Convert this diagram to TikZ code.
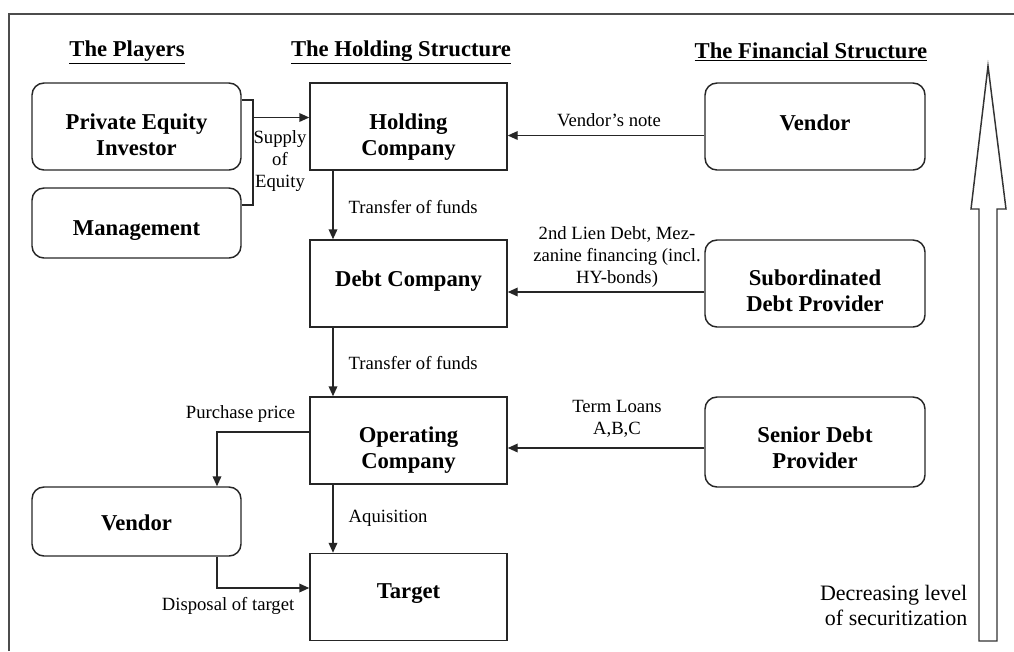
\documentclass[tikz,border=0pt]{standalone}
\usepackage{fontspec}
\setmainfont{Liberation Serif}
\usetikzlibrary{arrows.meta,calc}

\begin{document}
\begin{tikzpicture}[x=0.75pt,y=-0.75pt,
  line width=1.1pt,
  every node/.style={inner sep=0pt, text=black},
  entity/.style={draw=black!85, line width=1.1pt},
  squarebox/.style={entity, minimum width=147.75pt, minimum height=65.25pt},
  playerbox/.style={entity, rounded corners=9pt, minimum width=156.75pt},
  financebox/.style={entity, rounded corners=9pt, minimum width=165pt},
  boxtext/.style={align=center, font=\fontsize{17}{19.5}\selectfont\bfseries},
  heading/.style={font=\fontsize{17}{19.5}\selectfont\bfseries},
  flowlabel/.style={font=\fontsize{14}{16.2}\selectfont, align=center},
  arr/.style={draw=black!85, -{Triangle[length=7.5pt,width=6.5pt]}},
  wire/.style={draw=black!85}
]
\useasboundingbox (0,0) rectangle (1014,651);

% outer frame (top and left edges)
\draw[line width=1.5pt, black!70] (9,651) -- (9,14) -- (1014,14);

% column headings
\node[heading] (h1) at (127,52) {\underline{The Players}};
\node[heading] (h2) at (401,52) {\underline{The Holding Structure}};
\node[heading] (h3) at (811,52) {\underline{The Financial Structure}};

% holding structure
\node[squarebox] (hold) at (408.5,126.5) {};
\node[squarebox] (debt) at (408.5,283.5) {};
\node[squarebox] (oper) at (408.5,440.5) {};
\node[squarebox] (targ) at (408.5,597) {};
\node[boxtext] (holdt) at (408.5,137.5) {Holding\\Company};
\node[boxtext] (debtt) at (408.5,281.5) {Debt Company};
\node[boxtext] (opert) at (408.5,450.5) {Operating\\Company};
\node[boxtext] (targt) at (408.5,594) {Target};

% players
\node[playerbox, minimum height=65.25pt] (pe) at (136.5,126.5) {};
\node[playerbox, minimum height=52.5pt] (mgmt) at (136.5,223) {};
\node[playerbox, minimum height=51.75pt] (vleft) at (136.5,521.5) {};
\node[boxtext] (pet) at (136.5,135) {Private Equity\\Investor};
\node[boxtext] (mgmtt) at (136.5,231) {Management};
\node[boxtext] (vleftt) at (136.5,522.5) {Vendor};

% financial structure
\node[financebox, minimum height=65.25pt] (vright) at (815,126.5) {};
\node[financebox, minimum height=65.25pt] (sub) at (815,283.5) {};
\node[financebox, minimum height=67.5pt] (sen) at (815,442) {};
\node[boxtext] (vrightt) at (815,122.5) {Vendor};
\node[boxtext] (subt) at (815,290.5) {Subordinated\\Debt Provider};
\node[boxtext] (sent) at (815,448) {Senior Debt\\Provider};

% supply of equity bracket
\coordinate (bt) at (253,100);
\coordinate (bb) at (253,205);
\coordinate (eq) at (253,117.5);
\draw[wire] (pe.east |- bt) -- (bt) -- (bb) -- (mgmt.east |- bb);
\draw[arr] (eq) -- (eq -| hold.west);
\node[flowlabel] (leq) at (280,161) {Supply\\of\\Equity};

% funds flowing down the holding chain
\coordinate (spine) at (333,0);
\draw[arr] (hold.south -| spine) -- (debt.north -| spine);
\draw[arr] (debt.south -| spine) -- (oper.north -| spine);
\draw[arr] (oper.south -| spine) -- (targ.north -| spine);
\node[flowlabel, anchor=west] (lt1) at (348,207) {Transfer of funds};
\node[flowlabel, anchor=west] (lt2) at (348,363) {Transfer of funds};
\node[flowlabel, anchor=west] (lacq) at (348,518) {Aquisition};

% financing arrows
\coordinate (vn) at ($(vright.west)+(0,9)$);
\draw[arr] (vn) -- (vn -| hold.east);
\node[flowlabel] (lvn) at (609,120) {Vendor’s note};
\coordinate (sd) at ($(sub.west)+(0,8.5)$);
\draw[arr] (sd) -- (sd -| debt.east);
\node[flowlabel] (lsub) at (617,257) {2nd Lien Debt, Mez-\\zanine financing (incl.\\HY-bonds)};
\coordinate (tl) at ($(sen.west)+(0,6)$);
\draw[arr] (tl) -- (tl -| oper.east);
\node[flowlabel] (lsen) at (617,419) {Term Loans\\A,B,C};

% purchase and disposal
\coordinate (pp) at (217,432);
\draw[arr] (oper.west |- pp) -- (pp) -- (vleft.north -| pp);
\node[flowlabel, anchor=east] (lpp) at (296,414) {Purchase price};
\coordinate (dp) at (217,588);
\draw[arr] (vleft.south -| dp) -- (dp) -- (dp -| targ.west);
\node[flowlabel, anchor=east] (ldp) at (295,606) {Disposal of target};

% securitization scale
\draw[line width=1.1pt, black!80, line join=miter]
  (979,641) -- (979,209) -- (971,209) -- (988,66) -- (1006,209)
  -- (997,209) -- (997,641) -- cycle;
\node[flowlabel, anchor=east, align=right,
  font=\fontsize{16.5}{18.75}\selectfont] (lsec) at (968,605.5) {Decreasing level\\of securitization};
\end{tikzpicture}
\end{document}
